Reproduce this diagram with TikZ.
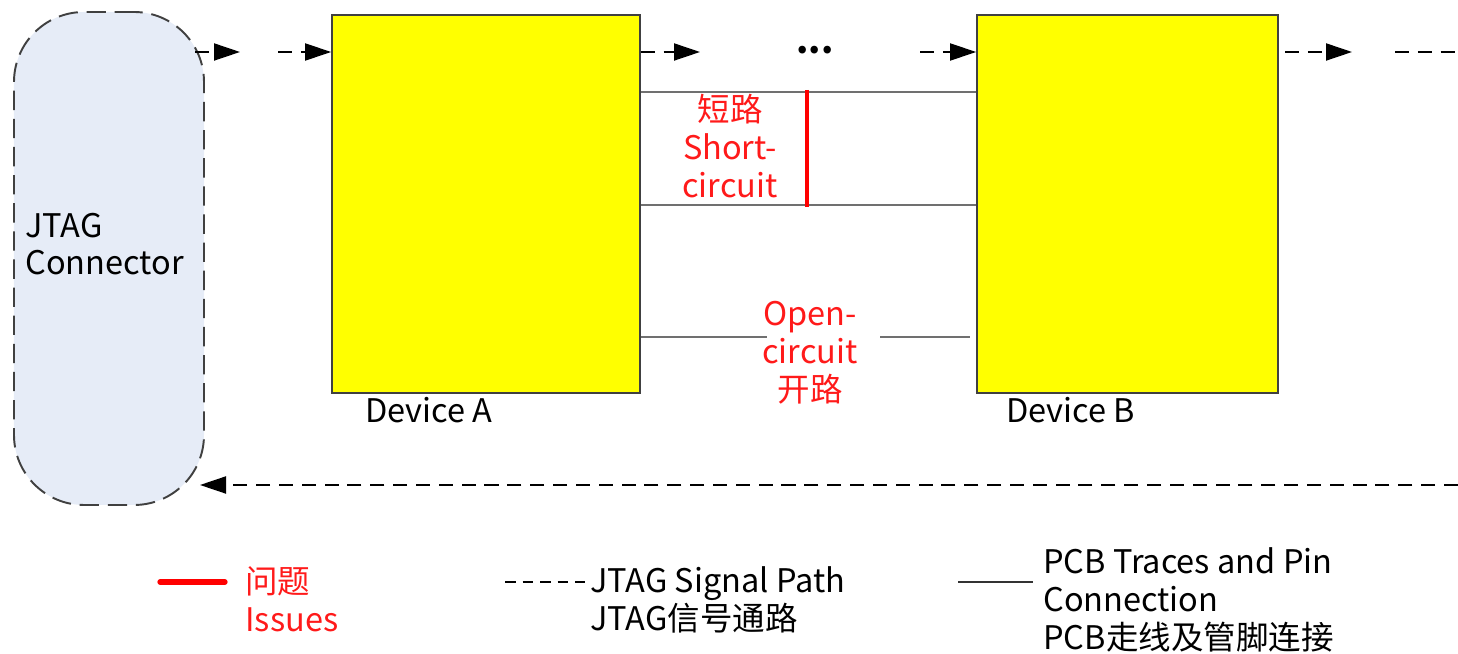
\documentclass[tikz,border=0pt]{standalone}
\usepackage{fontspec}
\setmainfont{Noto Sans CJK SC}
\usetikzlibrary{positioning,arrows.meta}
\definecolor{connfill}{HTML}{E6ECF7}
\definecolor{tracegray}{HTML}{707070}
\definecolor{issuered}{HTML}{FF1A1A}
\definecolor{chipyellow}{HTML}{FFFF00}
\tikzset{
  sigarrow/.style={-{Triangle[length=5.2mm, width=3.4mm]}, line width=1.1pt, dash pattern=on 8pt off 5pt},
  sigline/.style={line width=1.1pt, dash pattern=on 8pt off 5pt},
  devbox/.style={draw=black!75, line width=1pt, fill=chipyellow, minimum width=6.16cm, minimum height=7.56cm},
  connbox/.style={draw=black!75, line width=1.1pt, dash pattern=on 11pt off 5pt, fill=connfill, rounded corners=1.4cm, minimum width=3.8cm, minimum height=9.86cm},
  trace/.style={draw=tracegray, line width=1.4pt},
  fault/.style={draw=red, line width=2.4pt},
  redtext/.style={text=issuered, align=center, inner sep=0pt},
  plaintext/.style={align=left, inner sep=0pt}
}

\begin{document}
\begin{tikzpicture}[font=\fontsize{18.5}{21.5}\selectfont]
  \useasboundingbox (0,0) rectangle (29.16,13.08);
  % connector and devices
  \node[connbox] (conn) at (2.18,7.91) {};
  \node[plaintext, anchor=west] (connlbl) at (0.5,8.2) {JTAG\\Connector};
  \node[devbox] (devA) at (9.72,9.0) {};
  \node[devbox, minimum width=6.02cm] (devB) at (22.55,9.0) {};
  \node[plaintext, anchor=west] (devAlbl) at (7.3,4.88) {Device A};
  \node[plaintext, anchor=west] (devBlbl) at (20.12,4.88) {Device B};

  % JTAG signal path
  \coordinate (s1) at (3.9,12.04);
  \coordinate (s2) at (4.8,12.04);
  \coordinate (s3) at (5.56,12.04);
  \coordinate (s4) at (14.0,12.04);
  \coordinate (s5) at (18.4,12.04);
  \coordinate (s6) at (25.7,12.04);
  \coordinate (s7) at (27.04,12.04);
  \coordinate (s8) at (27.9,12.04);
  \coordinate (s9) at (29.16,12.04);
  \coordinate (r1) at (29.16,3.38);
  \coordinate (r2) at (4.0,3.38);
  \node[inner sep=0pt, font=\fontsize{20}{22}\selectfont\bfseries] (dots) at (16.3,12.08) {...};
  \draw[sigarrow] (s1) -- (s2);
  \draw[sigarrow] (s3) -- (devA.west |- s3);
  \draw[sigarrow] (devA.east |- s4) -- (s4);
  \draw[sigarrow] (s5) -- (devB.west |- s5);
  \draw[sigarrow] (s6) -- (s7);
  \draw[sigline] (s8) -- (s9);
  \draw[sigarrow] (r1) -- (r2);

  % PCB traces
  \draw[trace] (devA.east |- 0,11.24) -- (devB.west |- 0,11.24);
  \draw[trace] (devA.east |- 0,8.98) -- (devB.west |- 0,8.98);
  \coordinate (o1) at (15.34,6.34);
  \coordinate (o2) at (17.6,6.34);
  \coordinate (o3) at (19.4,6.34);
  \draw[trace] (devA.east |- o1) -- (o1);
  \draw[trace] (o2) -- (o3);

  % faults
  \coordinate (f1) at (16.14,11.28);
  \coordinate (f2) at (16.14,8.94);
  \draw[fault] (f1) -- (f2);
  \node[redtext] (shortlbl) at (14.6,10.16) {短路\\Short-\\circuit};
  \node[redtext] (openlbl) at (16.2,6.02) {Open-\\circuit\\开路};

  % legend
  \coordinate (l1) at (3.2,1.44);
  \coordinate (l2) at (4.5,1.44);
  \coordinate (l3) at (10.1,1.44);
  \coordinate (l4) at (11.7,1.44);
  \coordinate (l5) at (19.16,1.44);
  \coordinate (l6) at (20.66,1.44);
  \draw[fault, line width=3pt, line cap=round] (l1) -- (l2);
  \node[redtext, align=left, anchor=west] (issuelbl) at (4.9,1.1) {问题\\Issues};
  \draw[line width=1pt, dash pattern=on 6pt off 4pt] (l3) -- (l4);
  \node[plaintext, anchor=west] (siglbl) at (11.8,1.08) {JTAG Signal Path\\JTAG信号通路};
  \draw[line width=1pt, black!80] (l5) -- (l6);
  \node[plaintext, anchor=west] (pcblbl) at (20.86,1.08) {PCB Traces and Pin\\Connection\\PCB走线及管脚连接};
\end{tikzpicture}
\end{document}
